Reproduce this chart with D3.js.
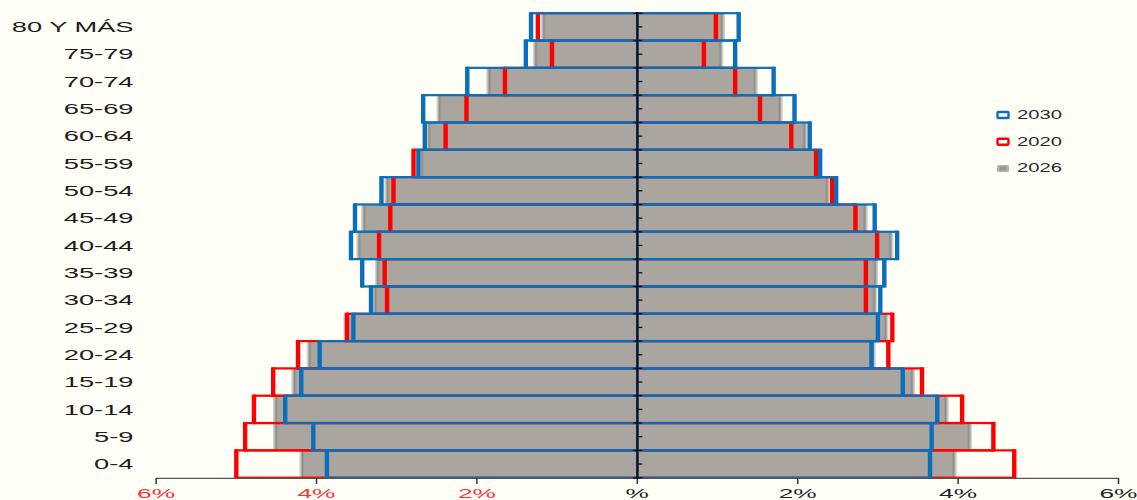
<!DOCTYPE html>
<html><head><meta charset="utf-8">
<script src="https://cdn.jsdelivr.net/npm/d3@7"></script>
<style>html,body{margin:0;padding:0;background:#fffff7;}svg{display:block;}</style>
</head><body>
<script>
// ---- data ----
const categories = ["0-4","5-9","10-14","15-19","20-24","25-29","30-34","35-39","40-44","45-49","50-54","55-59","60-64","65-69","70-74","75-79","80 Y MÁS"];
const left2030 = [3.87,4.04,4.39,4.19,3.96,3.54,3.32,3.43,3.57,3.52,3.19,2.73,2.65,2.67,2.12,1.39,1.325];
const left2020 = [5.00,4.89,4.78,4.54,4.23,3.62,3.12,3.15,3.22,3.08,3.04,2.79,2.39,2.13,1.65,1.064,1.24];
const left2026 = [4.21,4.54,4.54,4.31,4.12,3.66,3.30,3.27,3.50,3.44,3.15,2.72,2.63,2.50,1.88,1.30,1.20];
const right2030 = [3.65,3.67,3.74,3.31,2.92,3.00,3.03,3.08,3.24,2.96,2.48,2.28,2.15,1.96,1.70,1.22,1.264];
const right2020 = [4.70,4.44,4.05,3.55,3.13,3.18,2.85,2.85,2.99,2.72,2.43,2.23,1.92,1.53,1.22,0.83,0.98];
const right2026 = [3.98,4.17,3.88,3.46,2.97,3.13,2.99,3.00,3.19,2.87,2.40,2.25,2.12,1.81,1.50,1.07,1.09];
const xTicks = [-6,-4,-2,0,2,4,6];
const xTickLabels = ["6%","4%","2%","%","2%","4%","6%"];
const legendItems = ["2030","2020","2026"];

// ---- layout ----
const W = 1137, H = 500;
const BLUE = "#0a6fba", RED = "#ff0000", GRAY = "#aaa59f";
const svg = d3.select("body").append("svg").attr("width", W).attr("height", H);
svg.append("rect").attr("width", W).attr("height", H).attr("fill", "#fffff7");

const x = d3.scaleLinear().domain([-6, 6]).range([156.1, 1118.5]);
const y = d3.scaleBand().domain(categories.slice().reverse()).range([13.2, 477.7]).padding(0);
const bw = y.bandwidth();
const x0 = x(0);

const defs = svg.append("defs");
function grad(id, dir) {
  const g = defs.append("linearGradient").attr("id", id)
    .attr("x1", dir > 0 ? "0%" : "100%").attr("x2", dir > 0 ? "100%" : "0%");
  g.append("stop").attr("offset", "0%").attr("stop-color", GRAY);
  g.append("stop").attr("offset", "45%").attr("stop-color", "#8f8b86");
  g.append("stop").attr("offset", "100%").attr("stop-color", "#e6e4e0");
}
grad("shadeR", 1); grad("shadeL", -1);

function rows(vals, side) {
  return categories.map((c, i) => ({ cat: c, v: vals[i], side }));
}
const sides = [
  { s: -1, g: left2026, r: left2020, b: left2030 },
  { s: 1, g: right2026, r: right2020, b: right2030 }
];

const gGray = svg.append("g"), gRed = svg.append("g"), gBlue = svg.append("g");
sides.forEach(sd => {
  // gray filled bars
  const gr = rows(sd.g, sd.s);
  gGray.selectAll(null).data(gr).enter().append("rect")
    .attr("x", d => Math.min(x0, x(d.side * d.v)))
    .attr("width", d => Math.abs(x(d.side * d.v) - x0))
    .attr("y", d => y(d.cat)).attr("height", bw).attr("fill", GRAY);
  gGray.selectAll(null).data(gr).enter().append("rect")
    .attr("x", d => d.side > 0 ? x(d.v) - 5 : x(-d.v))
    .attr("width", 5)
    .attr("y", d => y(d.cat)).attr("height", bw)
    .attr("fill", d => d.side > 0 ? "url(#shadeR)" : "url(#shadeL)");
  // outlines
  [[sd.r, RED, gRed], [sd.b, BLUE, gBlue]].forEach(([vals, col, layer]) => {
    const dd = rows(vals, sd.s);
    layer.selectAll(null).data(dd).enter().append("rect")
      .attr("x", d => Math.min(x0, x(d.side * d.v)))
      .attr("width", d => Math.abs(x(d.side * d.v) - x0))
      .attr("y", d => y(d.cat)).attr("height", bw)
      .attr("fill", "none").attr("stroke", col).attr("stroke-width", 2.2);
    layer.selectAll(null).data(dd).enter().append("rect")
      .attr("x", d => x(d.side * d.v) - 2.2)
      .attr("width", 4.4)
      .attr("y", d => y(d.cat) - 1.1).attr("height", bw + 2.2)
      .attr("fill", col);
  });
});

// ---- axes ----
const ax = svg.append("g");
ax.append("line").attr("x1", x(-6)).attr("x2", x(6)).attr("y1", 478.3).attr("y2", 478.3)
  .attr("stroke", "#555").attr("stroke-width", 1.3);
ax.selectAll(null).data(xTicks).enter().append("line")
  .attr("x1", d => x(d)).attr("x2", d => x(d)).attr("y1", 478).attr("y2", 484)
  .attr("stroke", "#333").attr("stroke-width", 1.5);
ax.selectAll(null).data(xTicks).enter().append("text")
  .attr("transform", d => `translate(${x(d)},498) scale(1.95,1)`)
  .attr("text-anchor", "middle")
  .attr("font-family", "Liberation Sans, Arial, sans-serif").attr("font-size", 13.5)
  .attr("fill", d => d < 0 ? "#ff3030" : "#222")
  .text((d, i) => xTickLabels[i]);

// vertical axis at 0
ax.append("line").attr("x1", x0).attr("x2", x0).attr("y1", 12).attr("y2", 479)
  .attr("stroke", "#0b1a2a").attr("stroke-width", 2.2);
const boundaries = categories.map(c => y(c)).concat([y.range()[1]]);
ax.selectAll(null).data(boundaries).enter().append("line")
  .attr("x1", x0 - 4).attr("x2", x0 + 5).attr("y1", d => d).attr("y2", d => d)
  .attr("stroke", "#111").attr("stroke-width", 1.3);
ax.selectAll(null).data(categories).enter().append("line")
  .attr("x1", x0).attr("x2", x0 + 5)
  .attr("y1", d => y(d) + bw / 2).attr("y2", d => y(d) + bw / 2)
  .attr("stroke", "#111").attr("stroke-width", 1.3);

// category labels
svg.append("g").selectAll(null).data(categories).enter().append("text")
  .attr("transform", d => `translate(133.5,${y(d) + bw / 2}) scale(1.76,1)`)
  .attr("text-anchor", "end").attr("dominant-baseline", "central")
  .attr("font-family", "Liberation Sans, Arial, sans-serif").attr("font-size", 15.5)
  .attr("fill", "#1c1c1c")
  .text(d => d);

// ---- legend ----
const lg = svg.append("g");
const lcol = { "2030": BLUE, "2020": RED, "2026": GRAY };
legendItems.forEach((k, i) => {
  const cy = 115 + i * 26.7;
  if (k === "2026") {
    lg.append("rect").attr("x", 997).attr("y", cy - 3.5).attr("width", 12).attr("height", 7)
      .attr("rx", 1.5).attr("fill", "#b5b1ac");
    lg.append("rect").attr("x", 999.5).attr("y", cy - 2).attr("width", 7).attr("height", 4)
      .attr("fill", "#9a9690");
  } else {
    lg.append("rect").attr("x", 997.5).attr("y", cy - 3).attr("width", 11).attr("height", 6)
      .attr("rx", 1).attr("fill", "#fff").attr("stroke", lcol[k]).attr("stroke-width", 2.4);
  }
  lg.append("text")
    .attr("transform", `translate(1017,${cy}) scale(1.66,1)`)
    .attr("dominant-baseline", "central")
    .attr("font-family", "Liberation Sans, Arial, sans-serif").attr("font-size", 12.2)
    .attr("fill", "#2a2a2a").text(k);
});
</script>
</body></html>
